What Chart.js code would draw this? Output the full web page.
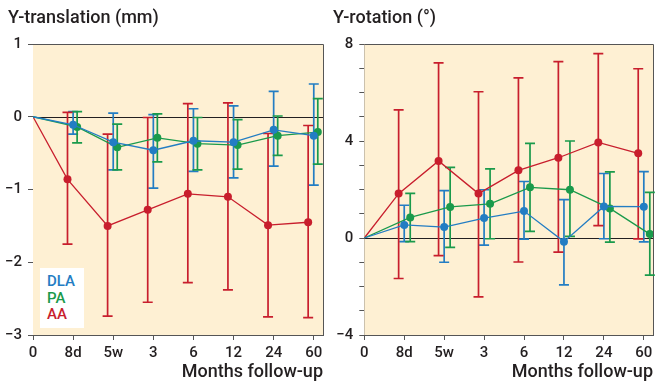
<!DOCTYPE html>
<html>
<head>
<meta charset="utf-8">
<script src="https://cdn.jsdelivr.net/npm/chart.js@4.4.1/dist/chart.umd.min.js"></script>
<style>
  body { margin: 0; background: #fff; font-family: Roboto, sans-serif; color: #231f20; }
  #wrap { position: relative; width: 657px; height: 383px; overflow: hidden; }
  .title { position: absolute; top: 6px; font-size: 18px; font-weight: 500; white-space: nowrap; }
  canvas { position: absolute; top: 0; }
  #legend { position: absolute; left: 40px; top: 268px; width: 44px; height: 60px; background: #fff;
            font-size: 15px; font-weight: 500; line-height: 16.5px; padding: 5px 0 0 7px; box-sizing: border-box; }
</style>
</head>
<body>
<div id="wrap">
  <canvas id="trans" width="330" height="383" style="left:0"></canvas>
  <canvas id="rot" width="327" height="383" style="left:330px"></canvas>
  <div class="title" style="left:8px">Y-translation (mm)</div>
  <div class="title" style="left:333px">Y-rotation (°)</div>
  <div id="legend">
    <div style="color:#237dc3">DLA</div>
    <div style="color:#1a9a4b">PA</div>
    <div style="color:#c81e2d">AA</div>
  </div>
</div>
<script>
const categories = ['0', '8d', '5w', '3', '6', '12', '24', '60'];

// Y-translation (mm): mean, lower and upper error bar ends
const transDLA = [0, -0.11, -0.35, -0.46, -0.33, -0.35, -0.18, -0.26];
const transDLALow = [0, -0.24, -0.73, -0.98, -0.75, -0.84, -0.68, -0.94];
const transDLAHigh = [0, 0.07, 0.05, 0.03, 0.11, 0.15, 0.35, 0.45];
const transPA = [0, -0.14, -0.42, -0.29, -0.37, -0.39, -0.26, -0.21];
const transPALow = [0, -0.36, -0.73, -0.62, -0.73, -0.72, -0.53, -0.65];
const transPAHigh = [0, 0.07, -0.10, 0.04, -0.01, -0.04, 0.01, 0.25];
const transAA = [0, -0.86, -1.50, -1.28, -1.06, -1.10, -1.49, -1.45];
const transAALow = [0, -1.75, -2.74, -2.55, -2.28, -2.38, -2.75, -2.76];
const transAAHigh = [0, 0.06, -0.24, -0.01, 0.18, 0.19, -0.23, -0.12];

// Y-rotation (degrees)
const rotDLA = [0, 0.54, 0.45, 0.82, 1.11, -0.15, 1.30, 1.29];
const rotDLALow = [0, -0.15, -1.00, -0.29, -0.05, -1.93, -0.03, -0.16];
const rotDLAHigh = [0, 1.35, 1.95, 1.99, 2.33, 1.58, 2.66, 2.74];
const rotPA = [0, 0.85, 1.28, 1.41, 2.09, 1.99, 1.22, 0.16];
const rotPALow = [0, -0.15, -0.39, -0.03, 0.27, 0.07, -0.17, -1.53];
const rotPAHigh = [0, 1.84, 2.91, 2.85, 3.90, 4.00, 2.73, 1.88];
const rotAA = [0, 1.83, 3.18, 1.83, 2.79, 3.31, 3.94, 3.49];
const rotAALow = [0, -1.67, -0.73, -2.43, -0.99, -0.58, 0.51, -0.04];
const rotAAHigh = [0, 5.28, 7.22, 6.03, 6.60, 7.27, 7.60, 6.98];

const BLUE = '#237dc3', GREEN = '#1a9a4b', RED = '#c81e2d';
const TEXT = '#231f20';

Chart.defaults.font.family = 'Roboto';
Chart.defaults.font.size = 15;
Chart.defaults.font.weight = 500;
Chart.defaults.color = TEXT;

const minus = v => v < 0 ? '\u2212' + Math.abs(v) : String(v);

// background, zero line, frame and error bars
const panel = {
    id: 'panel',
    beforeDatasetsDraw(chart) {
        const { ctx, chartArea: a, scales: { x, y } } = chart;
        ctx.save();
        ctx.fillStyle = '#fef0d3';
        ctx.fillRect(a.left, a.top, a.right - a.left, a.bottom - a.top);

        const y0 = Math.round(y.getPixelForValue(0)) + 0.5;
        ctx.strokeStyle = '#231f20';
        ctx.lineWidth = 1;
        ctx.beginPath();
        ctx.moveTo(a.left, y0);
        ctx.lineTo(a.right, y0);
        ctx.stroke();

        ctx.strokeStyle = '#555';
        ctx.beginPath();
        ctx.moveTo(a.left, Math.round(a.top) + 0.5);
        ctx.lineTo(Math.round(a.right) + 0.5, Math.round(a.top) + 0.5);
        ctx.lineTo(Math.round(a.right) + 0.5, a.bottom);
        ctx.stroke();

        ctx.lineWidth = 1.7;
        chart.data.datasets.forEach(ds => {
            ctx.strokeStyle = ds.borderColor;
            ds.data.forEach((p, i) => {
                if (i === 0) return;
                const px = x.getPixelForValue(p.x);
                const top = y.getPixelForValue(ds.high[i]);
                const bot = y.getPixelForValue(ds.low[i]);
                ctx.beginPath();
                ctx.moveTo(px, top); ctx.lineTo(px, bot);
                ctx.moveTo(px - 5, top); ctx.lineTo(px + 5, top);
                ctx.moveTo(px - 5, bot); ctx.lineTo(px + 5, bot);
                ctx.stroke();
            });
        });
        ctx.restore();
    }
};

function series(values, low, high, color, offset) {
    return {
        data: values.map((v, i) => ({ x: i === 0 ? 0 : i + offset, y: v })),
        low: low,
        high: high,
        borderColor: color,
        backgroundColor: color,
        borderWidth: 1.3,
        pointRadius: values.map((v, i) => i === 0 ? 0 : 4),
        pointBorderWidth: 0,
        tension: 0
    };
}

function makeChart(id, datasets, yMin, yMax, yLabel, yWidth, padRight) {
    return new Chart(document.getElementById(id), {
        type: 'line',
        data: { datasets: datasets },
        options: {
            responsive: false,
            animation: false,
            layout: { padding: { top: 44, right: padRight, left: 0, bottom: 0 } },
            plugins: { legend: { display: false }, tooltip: { enabled: false } },
            scales: {
                x: {
                    type: 'linear', min: 0, max: 7.23,
                    afterBuildTicks: s => { s.ticks = categories.map((c, i) => ({ value: i })); },
                    ticks: { callback: v => categories[v], padding: 4, maxRotation: 0, autoSkip: false },
                    grid: { drawOnChartArea: false, tickLength: 5, color: '#555' },
                    border: { color: '#555' },
                    title: { display: true, text: 'Months follow-up', align: 'end', font: { size: 18 }, padding: { top: 0, bottom: 0 } },
                    afterFit: s => { s.height = 48; }
                },
                y: {
                    min: yMin, max: yMax,
                    ticks: { stepSize: 1, autoSkip: false, padding: 6, callback: yLabel },
                    grid: { drawOnChartArea: false, tickLength: 5, color: '#555' },
                    border: { color: '#555' },
                    afterFit: s => { s.width = yWidth; }
                }
            }
        },
        plugins: [panel]
    });
}

makeChart('trans', [
    series(transDLA, transDLALow, transDLAHigh, BLUE, 0),
    series(transPA, transPALow, transPAHigh, GREEN, 0.1),
    series(transAA, transAALow, transAAHigh, RED, -0.14)
], -3, 1, v => minus(v), 33, 7);

makeChart('rot', [
    series(rotDLA, rotDLALow, rotDLAHigh, BLUE, 0),
    series(rotPA, rotPALow, rotPAHigh, GREEN, 0.15),
    series(rotAA, rotAALow, rotAAHigh, RED, -0.14)
], -4, 8, v => v % 4 === 0 ? minus(v) : '', 34.3, 1.3);
</script>
</body>
</html>
